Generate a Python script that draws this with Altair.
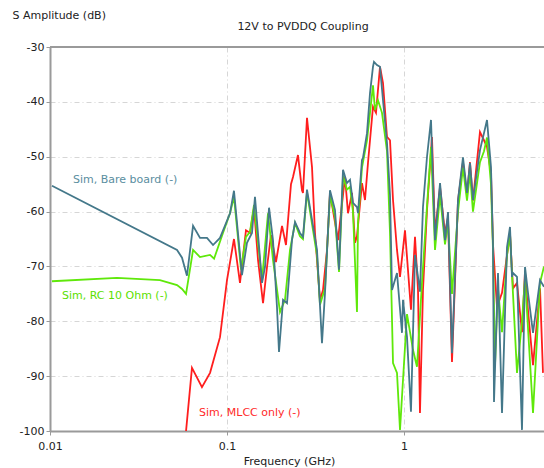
import altair as alt
import pandas as pd

# ---- data (frequency in GHz, amplitude in dB) ----
bare_f = [0.01026, 0.0522, 0.0557, 0.0594, 0.0643, 0.0704, 0.0771, 0.0834, 0.0913, 0.1040,
          0.1095, 0.1215, 0.1297, 0.1384, 0.1439, 0.1577, 0.1640, 0.1728, 0.1819, 0.1916,
          0.1967, 0.2073, 0.2183, 0.2329, 0.2423, 0.2584, 0.2687, 0.2831, 0.3225, 0.3441,
          0.3579, 0.3818, 0.4075, 0.4294, 0.4523, 0.4764, 0.4954, 0.5150, 0.5425, 0.5496,
          0.5789, 0.5865, 0.6180, 0.6426, 0.6681, 0.6768, 0.7038, 0.7318, 0.7610, 0.8017,
          0.8336, 0.8556, 0.9130, 0.9743, 0.9871, 1.040, 1.095, 1.154, 1.231, 1.280,
          1.349, 1.421, 1.497, 1.598, 1.705, 1.773, 1.867, 2.019, 2.154, 2.270,
          2.360, 2.453, 2.687, 2.831, 2.944, 3.101, 3.183, 3.225, 3.397, 3.579,
          3.818, 3.971, 4.075, 4.129, 4.350, 4.642, 4.827, 5.019, 5.357, 5.867, 6.18]
bare_db = [-55.3, -67.0, -68.4, -71.7, -62.6, -64.8, -64.8, -66.1, -64.8, -60.3,
           -56.2, -71.6, -65.7, -63.9, -57.3, -73.0, -70.1, -59.3, -65.2, -77.4,
           -85.6, -76.1, -76.7, -65.2, -61.9, -63.9, -64.6, -56.0, -67.0, -84.0,
           -74.8, -56.1, -59.7, -70.6, -52.4, -54.8, -54.2, -58.4, -59.2, -60.3,
           -50.6, -50.2, -45.7, -38.4, -33.6, -32.7, -33.3, -33.6, -39.7, -47.5,
           -57.0, -74.3, -71.2, -82.1, -76.1, -82.9, -96.5, -67.9, -74.6, -59.2,
           -50.0, -43.3, -65.2, -54.8, -65.2, -60.1, -85.8, -57.9, -50.1, -56.6,
           -51.1, -57.9, -48.8, -45.7, -43.3, -51.9, -66.0, -94.7, -71.2, -96.7,
           -66.5, -62.8, -71.9, -71.2, -71.9, -99.8, -70.1, -74.8, -82.1, -72.5, -73.7]

rc_f = [0.01026, 0.0239, 0.0418, 0.0522, 0.0557, 0.0587, 0.0643, 0.0704, 0.0802, 0.0845,
        0.0949, 0.1040, 0.1095, 0.1200, 0.1280, 0.1349, 0.1421, 0.1577, 0.1705, 0.1819,
        0.1993, 0.2127, 0.2270, 0.2423, 0.2584, 0.2687, 0.2831, 0.3225, 0.3353, 0.3579,
        0.3818, 0.4075, 0.4294, 0.4523, 0.4764, 0.4954, 0.5150, 0.5425, 0.5496, 0.5789,
        0.6180, 0.6426, 0.6681, 0.6857, 0.7130, 0.7511, 0.8017, 0.8336, 0.8669, 0.9130,
        0.9493, 0.9871, 1.040, 1.124, 1.184, 1.264, 1.349, 1.421, 1.497, 1.598,
        1.705, 1.773, 1.867, 2.019, 2.154, 2.270, 2.360, 2.453, 2.687, 2.831,
        2.944, 3.101, 3.183, 3.267, 3.397, 3.579, 3.818, 3.971, 4.129, 4.350,
        4.642, 4.827, 5.357, 5.867, 6.18]
rc_db = [-72.7, -72.1, -72.5, -73.4, -74.1, -75.0, -67.0, -68.3, -67.9, -68.6,
         -63.9, -60.3, -57.3, -70.6, -64.6, -63.7, -58.8, -72.5, -60.3, -68.8,
         -78.3, -76.1, -67.0, -62.1, -64.5, -65.0, -56.5, -68.0, -77.0, -74.0,
         -57.0, -61.0, -71.0, -53.5, -56.0, -55.5, -60.0, -78.3, -62.0, -52.0,
         -47.0, -42.0, -37.0, -41.5, -39.7, -42.0, -49.0, -63.9, -87.6, -89.4,
         -99.8, -90.7, -78.7, -85.2, -88.3, -72.9, -59.0, -48.2, -67.0, -57.0,
         -66.0, -62.0, -75.0, -60.0, -52.0, -58.0, -53.0, -60.0, -51.0, -49.0,
         -46.5, -55.0, -67.0, -88.0, -74.0, -82.0, -68.0, -64.0, -75.0, -89.4,
         -80.0, -72.0, -96.7, -73.0, -70.0]

mlcc_f = [0.0587, 0.0634, 0.0722, 0.0802, 0.0913, 0.1000, 0.1095, 0.1184, 0.1280, 0.1349,
          0.1421, 0.1497, 0.1598, 0.1683, 0.1772, 0.1891, 0.2046, 0.2154, 0.2299, 0.2360,
          0.2518, 0.2652, 0.2687, 0.2831, 0.3022, 0.3142, 0.3353, 0.3487, 0.3673, 0.3818,
          0.4238, 0.4642, 0.4827, 0.5084, 0.5286, 0.5425, 0.5789, 0.6021, 0.6261, 0.6681,
          0.6947, 0.7318, 0.7610, 0.8017, 0.8336, 0.8669, 0.9130, 0.9493, 1.013, 1.095,
          1.154, 1.200, 1.231, 1.280, 1.349, 1.439, 1.497, 1.598, 1.705, 1.773,
          1.867, 2.019, 2.154, 2.270, 2.360, 2.453, 2.687, 2.831, 2.944, 3.101,
          3.183, 3.353, 3.579, 3.818, 3.971, 4.129, 4.350, 4.642, 4.827, 5.019,
          5.357, 5.867, 6.100]
mlcc_db = [-100.0, -88.5, -92.0, -89.4, -82.9, -72.5, -65.0, -73.0, -63.4, -63.9,
           -59.3, -68.8, -76.7, -70.1, -64.3, -69.2, -62.6, -66.1, -55.0, -53.7,
           -49.7, -56.1, -56.6, -42.9, -51.9, -63.9, -76.1, -74.3, -67.0, -56.6,
           -65.2, -53.7, -60.3, -56.6, -65.7, -64.5, -54.8, -57.9, -51.1, -40.9,
           -42.0, -33.6, -36.6, -46.4, -47.0, -57.9, -67.0, -71.9, -63.4, -77.9,
           -64.6, -74.3, -96.7, -74.3, -59.7, -46.4, -64.0, -55.5, -64.0, -61.0,
           -87.4, -58.0, -51.0, -57.0, -51.0, -58.0, -45.5, -47.0, -48.2, -53.0,
           -66.0, -77.4, -74.8, -68.0, -64.0, -74.0, -73.0, -82.0, -71.0, -78.0,
           -88.0, -74.0, -89.4]

series_names = ["Sim, MLCC only (-)", "Sim, RC 10 Ohm (-)", "Sim, Bare board (-)"]
series_colors = ["#ff1e1e", "#5fe80a", "#44788a"]
label_colors = ["#ff2a2a", "#5ce000", "#5a8ea0"]
label_f = [0.0695, 0.01169, 0.01349]
label_db = [-96.7, -75.4, -54.2]

x_ticks = [0.01, 0.1, 1]
y_ticks = [-100, -90, -80, -70, -60, -50, -40, -30]

rows = []
for name, fs, dbs in zip(series_names, [mlcc_f, rc_f, bare_f], [mlcc_db, rc_db, bare_db]):
    for i, (f, d) in enumerate(zip(fs, dbs)):
        rows.append({"series": name, "freq": f, "db": d, "idx": i})
df = pd.DataFrame(rows)
labels = pd.DataFrame({"series": series_names, "freq": label_f, "db": label_db})

FONT = "DejaVu Sans"

xscale = alt.Scale(type="log", domain=[0.01, 6.18], nice=False)
yscale = alt.Scale(domain=[-100, -30], nice=False)

grid_dash = [5, 3, 1, 3]

x_enc = alt.X("freq:Q", scale=xscale,
              axis=alt.Axis(values=x_ticks, format="~g", title="Frequency (GHz)",
                            grid=True, gridColor="#d6d6d6", gridDash=grid_dash,
                            domainColor="#9a9a9a", domainWidth=2,
                            tickColor="#9a9a9a", tickSize=4,
                            labelFont=FONT, labelFontSize=11, labelColor="#222",
                            labelPadding=5, labelFlush=False,
                            titleFont=FONT, titleFontSize=11, titleFontWeight="normal",
                            titleColor="#222", titleX=239, titleY=30,
                            titleBaseline="middle"))
y_enc = alt.Y("db:Q", scale=yscale,
              axis=alt.Axis(values=y_ticks, title="S Amplitude (dB)",
                            labelExpr="datum.value < 0 ? '-' + abs(datum.value) : '' + datum.value",
                            grid=True, gridColor="#d6d6d6", gridDash=grid_dash,
                            domainColor="#9a9a9a", domainWidth=2,
                            tickColor="#9a9a9a", tickSize=4,
                            labelFont=FONT, labelFontSize=11, labelColor="#222",
                            labelPadding=2,
                            titleFont=FONT, titleFontSize=11, titleFontWeight="normal",
                            titleColor="#222", titleAngle=0, titleAlign="left",
                            titleBaseline="middle", titleX=-38, titleY=-32))

color = alt.Color("series:N", scale=alt.Scale(domain=series_names, range=series_colors),
                  legend=None)

lines = alt.Chart(df).mark_line(strokeWidth=1.8, clip=True).encode(
    x=x_enc, y=y_enc, color=color, order="idx:Q",
    detail="series:N")

top_border = alt.Chart(pd.DataFrame({"db": [-30]})).mark_rule(
    color="#9a9a9a", strokeWidth=2).encode(y=alt.Y("db:Q", scale=yscale))

text = alt.Chart(labels).mark_text(align="left", baseline="middle", font=FONT,
                                   fontSize=11).encode(
    x=alt.X("freq:Q", scale=xscale),
    y=alt.Y("db:Q", scale=yscale),
    text="series:N",
    color=alt.Color("series:N", scale=alt.Scale(domain=series_names, range=label_colors),
                    legend=None))

chart = alt.layer(lines, top_border, text).resolve_scale(color="independent").properties(
    width=494, height=384,
    title=alt.TitleParams("12V to PVDDQ Coupling", font=FONT, fontSize=11,
                          fontWeight="normal", color="#222", anchor="middle",
                          offset=-23, dx=6),
    autosize=alt.AutoSizeParams(type="none"),
    padding={"left": 50, "top": 47, "right": 0, "bottom": 37},
).configure_view(stroke=None).configure(background="white")

chart.save("out.html", embed_options={"renderer": "svg", "actions": False})
